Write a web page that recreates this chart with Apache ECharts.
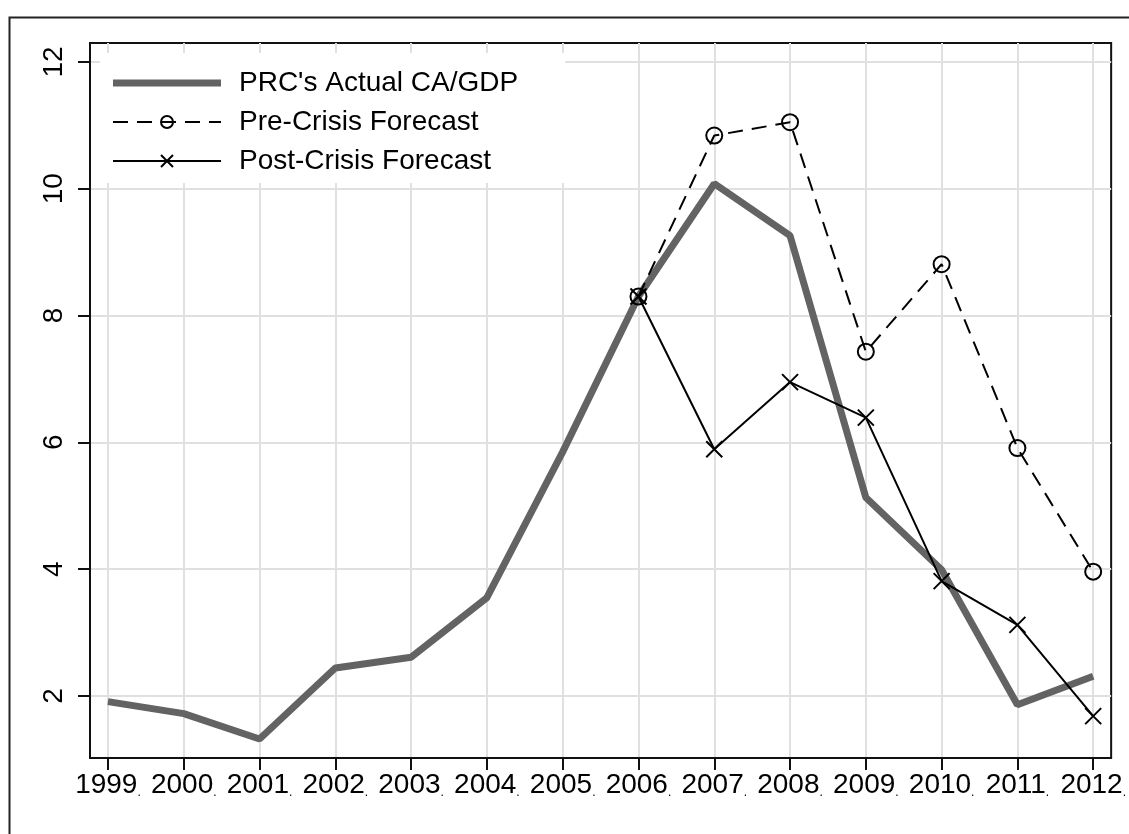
<!DOCTYPE html>
<html>
<head>
<meta charset="utf-8">
<script src="https://cdn.jsdelivr.net/npm/echarts@6/dist/echarts.min.js"></script>
<style>
  html, body { margin: 0; padding: 0; background: #fff; }
  #chart { width: 1129px; height: 834px; }
</style>
</head>
<body>
<div id="chart"></div>
<script>
const years = [1999, 2000, 2001, 2002, 2003, 2004, 2005, 2006, 2007, 2008, 2009, 2010, 2011, 2012]
const actual = [1.91, 1.72, 1.32, 2.44, 2.61, 3.55, 5.85, 8.3, 10.08, 9.26, 5.13, 3.99, 1.86, 2.31]
const preCrisis = [null, null, null, null, null, null, null, 8.3, 10.84, 11.05, 7.43, 8.81, 5.91, 3.96]
const postCrisis = [null, null, null, null, null, null, null, 8.3, 5.89, 6.95, 6.39, 3.81, 3.12, 1.68]
const yTicks = [2, 4, 6, 8, 10, 12]

const font = 'Liberation Sans'
const gray = '#636363'

const pairs = (vals) => years.map((y, i) => [y, vals[i]]).filter((p) => p[1] !== null)

const chart = echarts.init(document.getElementById('chart'))

const option = {
  backgroundColor: '#fff',
  animation: false,
  graphic: [
    {
      type: 'rect',
      left: 7,
      top: 15,
      shape: { width: 1200, height: 900 },
      style: { fill: 'none', stroke: '#222', lineWidth: 2 },
      silent: true,
    },
  ],
  grid: {
    left: 90,
    top: 43,
    right: 16,
    bottom: 76,
    show: true,
    borderColor: '#111',
    borderWidth: 2,
    containLabel: false,
  },
  legend: {
    orient: 'vertical',
    left: 100,
    top: 53,
    backgroundColor: '#fff',
    padding: [15, 47, 7, 12],
    itemWidth: 108,
    itemHeight: 15,
    itemGap: 9,
    textStyle: {
      fontFamily: font,
      fontSize: 28,
      color: '#000',
      lineHeight: 30,
      padding: [0, 0, 0, 13],
    },
    data: [
      { name: "PRC's Actual CA/GDP", icon: 'path://M0,0H108V7H0Z', itemStyle: { color: gray } },
      'Pre-Crisis Forecast',
      'Post-Crisis Forecast',
    ],
  },
  xAxis: {
    type: 'value',
    min: 1998.763,
    max: 2012.237,
    splitNumber: 13,
    axisLine: { lineStyle: { color: '#111', width: 2 } },
    axisTick: {
      show: true,
      length: 12,
      customValues: years,
      lineStyle: { color: '#111', width: 2 },
    },
    axisLabel: {
      customValues: years,
      margin: 13,
      formatter: (v) => '{y|' + v + '}{d|.}',
      rich: {
        y: { fontFamily: font, fontSize: 28, color: '#000' },
        d: { fontFamily: font, fontSize: 12, color: '#000', verticalAlign: 'bottom' },
      },
    },
    splitLine: { show: true, lineStyle: { color: '#e0e0e0', width: 2 } },
  },
  yAxis: {
    type: 'value',
    min: 1.02,
    max: 12.3,
    splitNumber: 5,
    axisLine: { show: true, lineStyle: { color: '#111', width: 2 } },
    axisTick: {
      show: true,
      length: 12,
      customValues: yTicks,
      lineStyle: { color: '#111', width: 2 },
    },
    axisLabel: {
      customValues: yTicks,
      rotate: 90,
      margin: 22,
      fontFamily: font,
      fontSize: 28,
      color: '#000',
    },
    splitLine: { show: true, lineStyle: { color: '#e0e0e0', width: 2 } },
  },
  series: [
    {
      name: "PRC's Actual CA/GDP",
      type: 'line',
      data: pairs(actual),
      symbol: 'none',
      itemStyle: { color: gray },
      lineStyle: { color: gray, width: 7 },
    },
    {
      name: 'Pre-Crisis Forecast',
      type: 'line',
      data: pairs(preCrisis),
      symbol: 'circle',
      symbolSize: 16,
      itemStyle: { color: 'rgba(0,0,0,0)', borderColor: '#000', borderWidth: 2 },
      lineStyle: { color: '#000', width: 2, type: [15, 9] },
    },
    {
      name: 'Post-Crisis Forecast',
      type: 'line',
      data: pairs(postCrisis),
      symbol: 'path://M0,0L10,10M10,0L0,10',
      symbolSize: 16,
      itemStyle: { color: 'rgba(0,0,0,0)', borderColor: '#000', borderWidth: 2 },
      lineStyle: { color: '#000', width: 2 },
    },
  ],
}

chart.setOption(option)
</script>
</body>
</html>
